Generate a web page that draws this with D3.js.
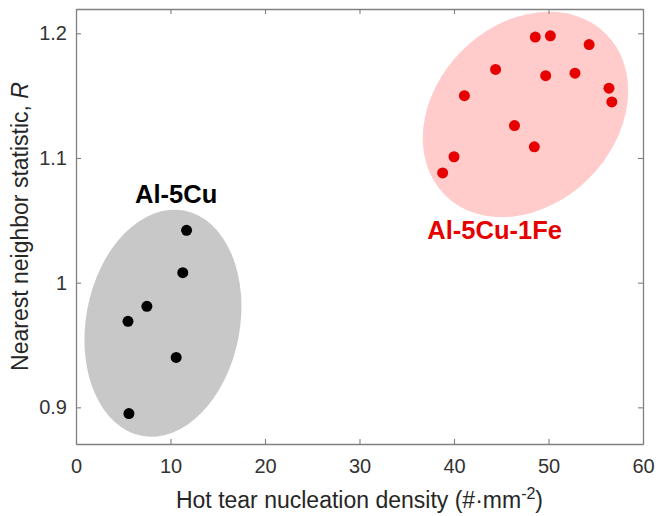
<!DOCTYPE html>
<html>
<head>
<meta charset="utf-8">
<script src="https://cdn.jsdelivr.net/npm/d3@7"></script>
<style>
  body { margin: 0; background: #fff; }
  svg text { font-family: "Liberation Sans", Arial, sans-serif; }
</style>
</head>
<body>
<svg id="chart" width="656" height="516"></svg>
<script>
// data
var cuX = [11.7, 11.3, 7.5, 5.5, 10.6, 5.6];
var cuY = [1.042, 1.008, 0.981, 0.969, 0.940, 0.895];
var feX = [48.6, 50.2, 54.3, 44.4, 49.7, 52.8, 41.1, 56.4, 56.7, 46.4, 48.5, 40.0, 38.8];
var feY = [1.197, 1.198, 1.191, 1.171, 1.166, 1.168, 1.150, 1.156, 1.145, 1.126, 1.109, 1.101, 1.088];
var xTicks = [0, 10, 20, 30, 40, 50, 60];
var yTicks = [0.9, 1.0, 1.1, 1.2];
var yTickLabels = ["0.9", "1", "1.1", "1.2"];
// group outlines: centre, radius (data units), tilt in degrees
var cuGroup = {name: "Al-5Cu", cx: 9.2, cy: 0.9675, rx: 8.14, ry: 0.0919, tilt: 10.6, lx: 10.6, ly: 1.064};
var feGroup = {name: "Al-5Cu-1Fe", cx: 47.56, cy: 1.1349, rx: 12.06, ry: 0.0722, tilt: -45, lx: 44.3, ly: 1.035};

var margin = {left: 76, top: 9, right: 13, bottom: 72};
var W = 656, H = 516;
var svg = d3.select("#chart");

var x = d3.scaleLinear().domain([0, 60]).range([margin.left, W - margin.right]);
var y = d3.scaleLinear().domain([0.8706, 1.2195]).range([H - margin.bottom, margin.top]);

function drawGroup(g, xs, ys, fill, dot, labelColor) {
  var px = x(g.cx), py = y(g.cy);
  svg.append("ellipse")
    .attr("cx", px).attr("cy", py)
    .attr("rx", x(g.cx + g.rx) - px)
    .attr("ry", py - y(g.cy + g.ry))
    .attr("transform", "rotate(" + g.tilt + "," + px + "," + py + ")")
    .attr("fill", fill);

  svg.append("g").selectAll("circle")
    .data(xs.map(function(v, i) { return [v, ys[i]]; }))
    .enter().append("circle")
    .attr("cx", function(d) { return x(d[0]); })
    .attr("cy", function(d) { return y(d[1]); })
    .attr("r", 5.5)
    .attr("fill", dot);

  svg.append("text")
    .attr("x", x(g.lx)).attr("y", y(g.ly))
    .attr("text-anchor", "middle")
    .attr("font-size", 25.5).attr("font-weight", "bold")
    .attr("fill", labelColor)
    .text(g.name);
}

drawGroup(cuGroup, cuX, cuY, "#c8c8c8", "#000", "#000");
drawGroup(feGroup, feX, feY, "#ffcccb", "#e60000", "#e60000");

// axes (ticks pointing inwards, box all round)
var axisColor = "#808080";
var axBottom = svg.append("g")
  .attr("transform", "translate(0," + y.range()[0] + ")")
  .call(d3.axisBottom(x).tickValues(xTicks).tickSize(-5).tickPadding(15).tickSizeOuter(0));
var axTop = svg.append("g")
  .attr("transform", "translate(0," + y.range()[1] + ")")
  .call(d3.axisTop(x).tickValues(xTicks).tickSize(-5).tickFormat("").tickSizeOuter(0));
var axLeft = svg.append("g")
  .attr("transform", "translate(" + x.range()[0] + ",0)")
  .call(d3.axisLeft(y).tickValues(yTicks).tickSize(-5).tickPadding(9).tickSizeOuter(0)
    .tickFormat(function(d, i) { return yTickLabels[i]; }));
var axRight = svg.append("g")
  .attr("transform", "translate(" + x.range()[1] + ",0)")
  .call(d3.axisRight(y).tickValues(yTicks).tickSize(-5).tickFormat("").tickSizeOuter(0));

[axBottom, axTop, axLeft, axRight].forEach(function(a) {
  a.select(".domain").attr("stroke", axisColor).attr("stroke-width", 1.3);
  a.selectAll(".tick line").attr("stroke", axisColor).attr("stroke-width", 1.1);
  a.selectAll(".tick text")
    .attr("font-size", 20)
    .attr("font-family", "Liberation Sans, Arial, sans-serif")
    .attr("fill", "#333");
});

// axis titles
var xt = svg.append("text")
  .attr("x", (x.range()[0] + x.range()[1]) / 2)
  .attr("y", 508)
  .attr("text-anchor", "middle")
  .attr("font-size", 23)
  .attr("fill", "#262626");
xt.append("tspan").text("Hot tear nucleation density (#\u00b7mm");
xt.append("tspan").attr("font-size", 16).attr("dy", -9).text("-2");
xt.append("tspan").attr("dy", 9).text(")");

var yt = svg.append("text")
  .attr("transform", "translate(28," + (y.range()[0] + y.range()[1]) / 2 + ") rotate(-90)")
  .attr("text-anchor", "middle")
  .attr("font-size", 23)
  .attr("fill", "#262626");
yt.append("tspan").text("Nearest neighbor statistic, ");
yt.append("tspan").attr("font-style", "italic").text("R");
</script>
</body>
</html>
